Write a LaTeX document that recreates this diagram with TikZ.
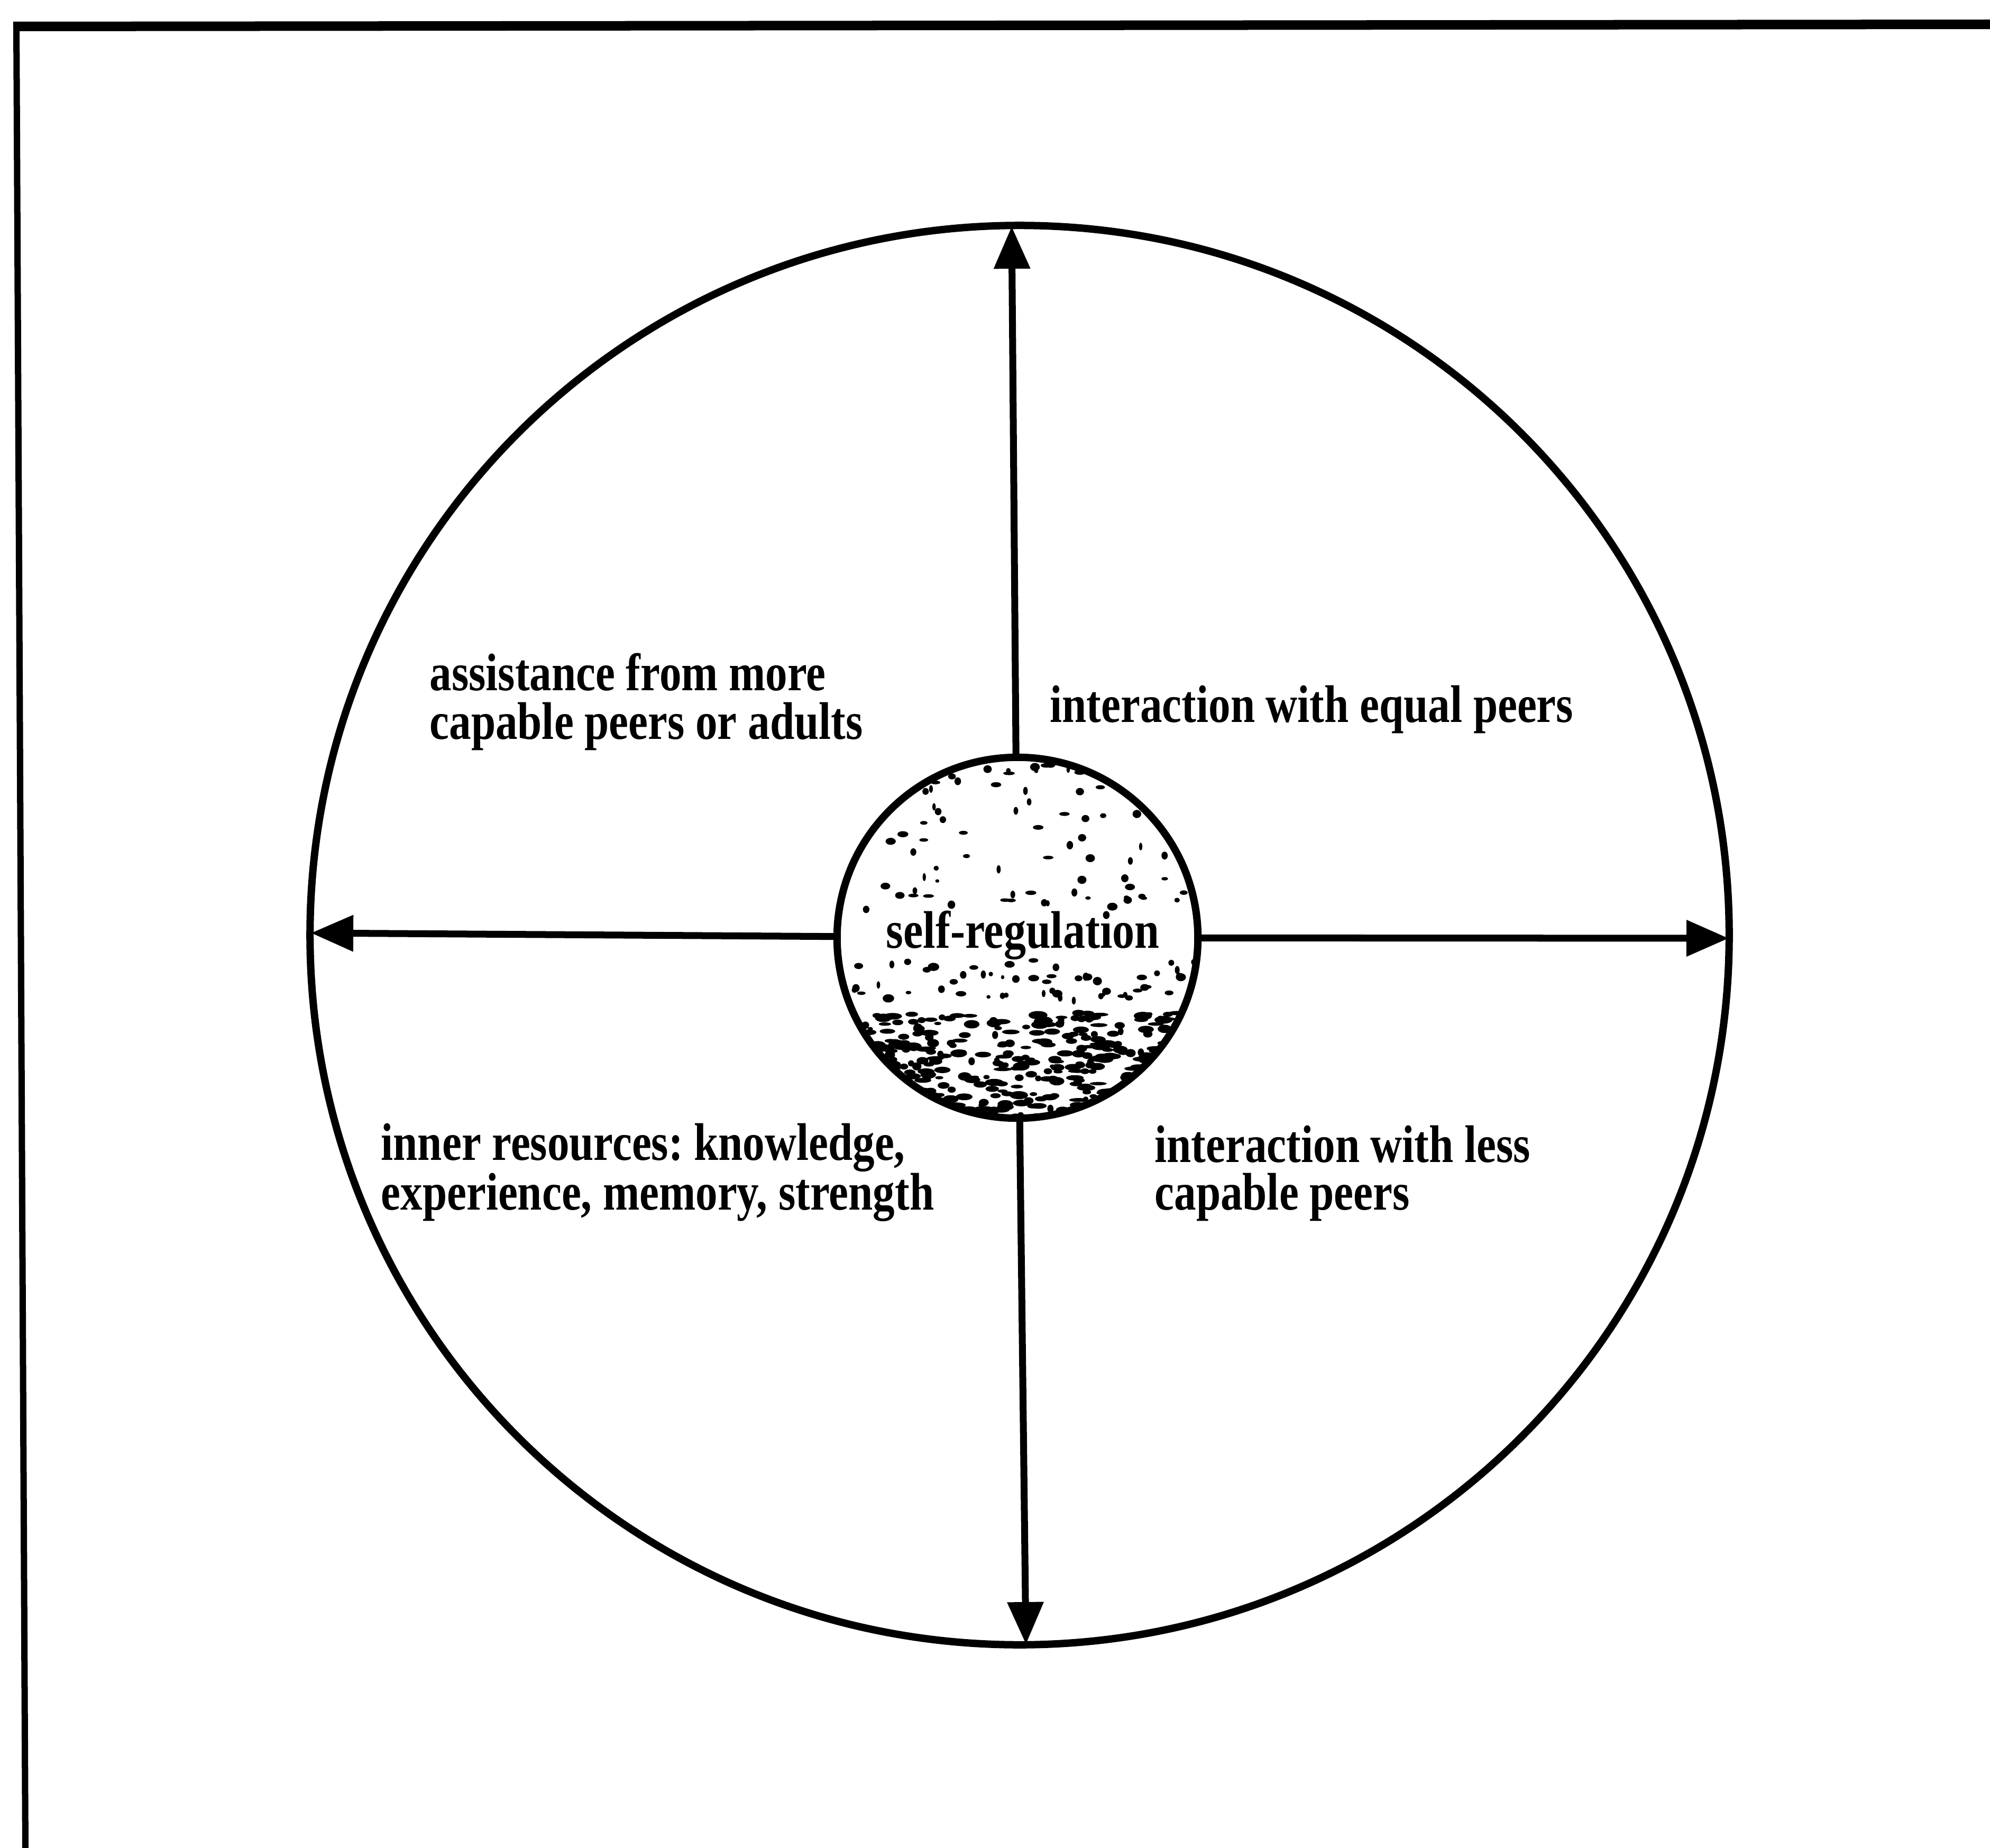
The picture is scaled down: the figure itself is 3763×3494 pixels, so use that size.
\documentclass[tikz,border=0pt]{standalone}
\usepackage{fontspec}
\setmainfont{Liberation Serif}[FakeStretch=0.83]
\newfontfamily\srfont{Liberation Serif}[FakeStretch=0.84]
\usetikzlibrary{arrows.meta}
\frenchspacing
\begin{document}
\begin{tikzpicture}[x=0.01cm,y=-0.01cm,
  ring/.style={circle,draw,line width=0.14cm,inner sep=0pt},
  conn/.style={line width=0.13cm,-{Triangle[length=0.8cm,width=0.66cm]}},
  lbl/.style={anchor=base west,inner sep=0pt,font=\bfseries\fontsize{28.45}{26}\selectfont},
  speck/.style={fill=black}]
\useasboundingbox (0,0) rectangle (3763,3494);
\fill[white] (0,0) rectangle (3763,3494);
% frame
\draw[line width=0.12cm] (48,3494) -- (31,48);
\draw[line width=0.18cm] (25,50) -- (3763,46);
% speckled core
\begin{scope}
  \clip (1924,1773) circle[radius=3.41cm];
  \pgfmathsetseed{17}
  \foreach \i in {1,...,95}{
    \pgfmathsetmacro{\px}{1590+rnd*670}
    \pgfmathsetmacro{\py}{1440+rnd*280}
    \pgfmathsetmacro{\rx}{0.03+rnd*0.08}
    \pgfmathsetmacro{\ry}{0.03+rnd*0.05}
    \fill[speck] (\px,\py) ellipse[x radius=\rx cm,y radius=\ry cm];
  }
  \foreach \i in {1,...,55}{
    \pgfmathsetmacro{\px}{1590+rnd*670}
    \pgfmathsetmacro{\py}{1812+rnd*80}
    \pgfmathsetmacro{\rx}{0.03+rnd*0.08}
    \pgfmathsetmacro{\ry}{0.03+rnd*0.05}
    \fill[speck] (\px,\py) ellipse[x radius=\rx cm,y radius=\ry cm];
  }
  \foreach \i in {1,...,420}{
    \pgfmathsetmacro{\px}{1590+rnd*670}
    \pgfmathsetmacro{\py}{1915+rnd*200}
    \pgfmathsetmacro{\rx}{0.05+rnd*0.13}
    \pgfmathsetmacro{\ry}{0.03+rnd*0.05}
    \fill[speck] (\px,\py) ellipse[x radius=\rx cm,y radius=\ry cm];
  }
\end{scope}
% circles
\node[ring,minimum size=26.82cm] (outer) at (1928,1768) {};
\node[ring,minimum size=6.82cm] (core) at (1924,1773) {};
\node[anchor=base,inner sep=0pt,font=\srfont\bfseries\fontsize{28.45}{26}\selectfont] (sr) at (1934,1792) {self-regulation};
% arrow tips on the outer circle
\coordinate (tT) at (1913,428);
\coordinate (tB) at (1940,3109);
\coordinate (tL) at (588,1764);
\coordinate (tR) at (3269,1774);
% connectors
\draw[conn] (core) -- (tT);
\draw[conn] (core) -- (tB);
\draw[conn] (core) -- (tL);
\draw[conn] (core) -- (tR);
% labels
\node[lbl] (a1) at (812,1305) {assistance from more};
\node[lbl] (a2) at (812,1397) {capable peers or adults};
\node[lbl] (b1) at (1985,1365) {interaction with equal peers};
\node[lbl] (c1) at (720,2193) {inner resources: knowledge,};
\node[lbl] (c2) at (720,2287) {experience, memory, strength};
\node[lbl] (d1) at (2183,2197) {interaction with less};
\node[lbl] (d2) at (2183,2287) {capable peers};
\end{tikzpicture}
\end{document}
